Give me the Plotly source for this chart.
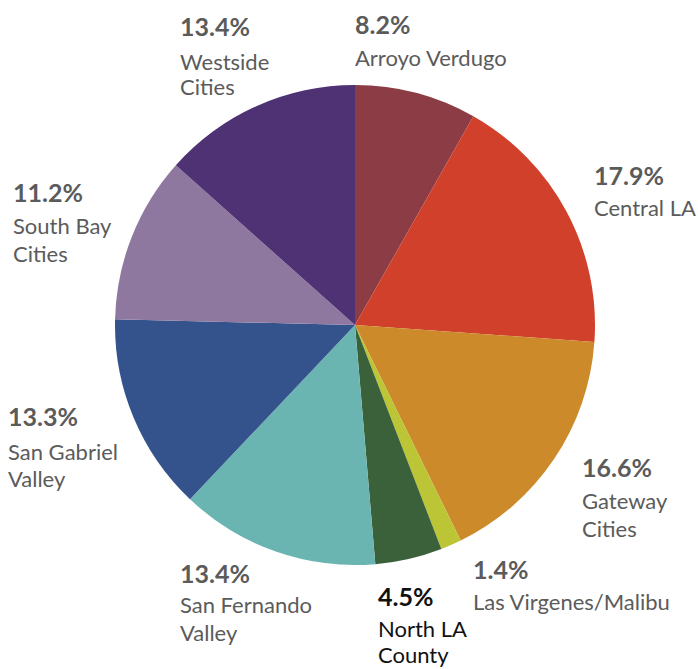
import plotly.graph_objects as go

W, H = 698, 669

regions = ["Arroyo Verdugo", "Central LA", "Gateway Cities", "Las Virgenes/Malibu",
           "North LA County", "San Fernando Valley", "San Gabriel Valley",
           "South Bay Cities", "Westside Cities"]
shares = [8.2, 17.9, 16.6, 1.4, 4.5, 13.4, 13.3, 11.2, 13.4]
colors = ["#8B3C45", "#D0402A", "#CD8A2A", "#BCC535", "#3A613A",
          "#6AB5B2", "#34538C", "#8F789F", "#4E3273"]

# label lines shown under each percentage
label_lines = [["Arroyo Verdugo"], ["Central LA"], ["Gateway", "Cities"],
               ["Las Virgenes/Malibu"], ["North LA", "County"],
               ["San Fernando", "Valley"], ["San Gabriel", "Valley"],
               ["South Bay", "Cities"], ["Westside", "Cities"]]

# label placement in pixels: left x, centre y of percentage, centre y of each name line
label_pos = [
    (353, 24, [57]),
    (592, 175, [208]),
    (580, 467, [500, 528]),
    (471, 569, [601]),
    (376, 596, [628, 654]),
    (178, 573, [604, 632]),
    (6, 416, [451, 478]),
    (11, 192, [225, 253]),
    (178, 26, [61, 87]),
]
highlight = "North LA County"

cx, cy, r = 355, 325, 240

fig = go.Figure(go.Pie(
    labels=regions,
    values=shares,
    sort=False,
    direction="clockwise",
    rotation=0,
    marker=dict(colors=colors, line=dict(width=0)),
    textinfo="none",
    hoverinfo="label+percent",
    showlegend=False,
    domain=dict(x=[(cx - r) / W, (cx + r) / W], y=[1 - (cy + r) / H, 1 - (cy - r) / H]),
))

annotations = []
for name, val, lines, (lx, py, ly) in zip(regions, shares, label_lines, label_pos):
    col = "#111111" if name == highlight else "#5b5b5b"
    annotations.append(dict(
        x=lx / W, y=1 - py / H, xref="paper", yref="paper",
        xanchor="left", yanchor="middle", showarrow=False,
        text=f"<b>{val:.1f}%</b>",
        font=dict(family="Lato", size=25, color=col),
    ))
    for line, y in zip(lines, ly):
        annotations.append(dict(
            x=lx / W, y=1 - y / H, xref="paper", yref="paper",
            xanchor="left", yanchor="middle", showarrow=False,
            text=line,
            font=dict(family="Lato", size=22, color=col),
        ))

fig.update_layout(
    width=W, height=H,
    margin=dict(l=0, r=0, t=0, b=0),
    paper_bgcolor="white",
    plot_bgcolor="white",
    annotations=annotations,
)

fig.write_html("out.html")
